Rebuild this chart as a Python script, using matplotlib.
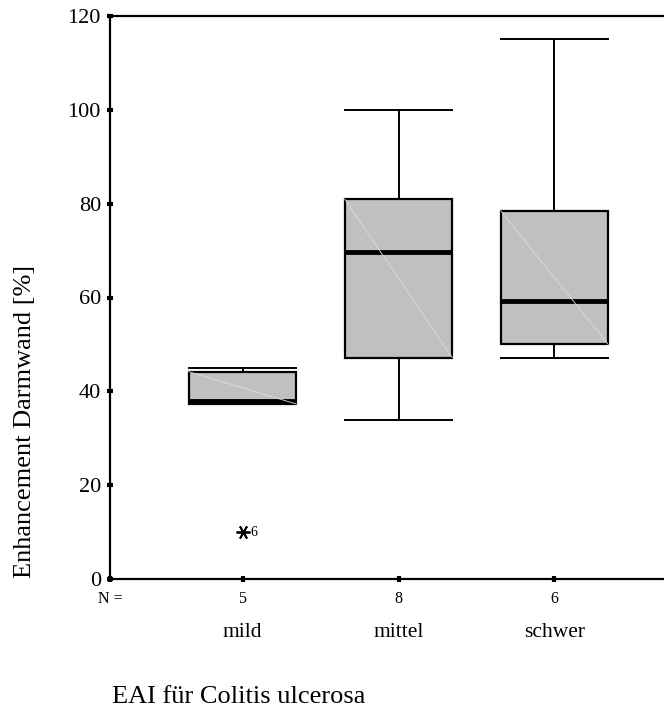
import matplotlib
matplotlib.use("Agg")
import matplotlib.pyplot as plt

categories = ["mild", "mittel", "schwer"]
n_counts = ["5", "8", "6"]
whislo = [37.2, 33.8, 47.2]
q1 = [37.3, 47.2, 50.0]
med = [38.0, 69.6, 59.2]
q3 = [44.2, 81.0, 78.5]
whishi = [45.0, 100.0, 115.0]
fliers = [[10.0], [], []]
flier_labels = ["6", "", ""]
yticks = [0, 20, 40, 60, 80, 100, 120]

plt.rcParams['font.family'] = ['Liberation Serif', 'DejaVu Serif']

fig = plt.figure(figsize=(6.64, 7.12), dpi=100)
ax = fig.add_axes([110/664, 133/712, 577/664, 563/712])

positions = [1, 2, 3]
stats = []
for i in range(3):
    stats.append(dict(med=med[i], q1=q1[i], q3=q3[i], whislo=whislo[i],
                      whishi=whishi[i], fliers=fliers[i]))
width = 0.69
ax.bxp(stats, positions=positions, widths=width, patch_artist=True,
       boxprops=dict(facecolor='#c0c0c0', edgecolor='black', linewidth=1.6),
       medianprops=dict(color='black', linewidth=3.5),
       whiskerprops=dict(color='black', linewidth=1.4),
       capprops=dict(color='black', linewidth=1.4),
       capwidths=width,
       flierprops=dict(marker=(6, 2, 90), markersize=10, markeredgecolor='black',
                       markeredgewidth=1.3, linestyle='none'),
       manage_ticks=False, zorder=3)

# faint diagonal artifacts inside boxes
for i, p in enumerate(positions):
    ax.plot([p - width/2, p + width/2], [q3[i], q1[i]], color='#dedede',
            linewidth=0.6, zorder=3.5)

for i, p in enumerate(positions):
    for f in fliers[i]:
        if flier_labels[i]:
            ax.text(p + 0.05, f, flier_labels[i], fontsize=10, va='center', ha='left')

ax.set_xlim(0.15, 3.85)
ax.set_ylim(0, 120)
ax.set_yticks(yticks)
ax.set_yticklabels([str(t) for t in yticks], fontsize=16)
ax.set_xticks([0.15] + positions)
ax.set_xticklabels(["N ="] + n_counts, fontsize=11.5)
ax.tick_params(axis='both', direction='inout', length=5, width=3)
ax.tick_params(axis='x', pad=6)
ax.tick_params(axis='y', pad=4)

for s in ['left', 'top', 'bottom']:
    ax.spines[s].set_linewidth(1.6)
ax.spines['right'].set_visible(False)

for p, c in zip(positions, categories):
    ax.text(p, -11.3, c, ha='center', va='center', fontsize=15.5)

fig.text(25/664, 1 - 421/712, "Enhancement Darmwand [%]", fontsize=19,
         rotation=90, ha='center', va='center')
fig.text(112/664, 1 - 697/712, "EAI für Colitis ulcerosa", fontsize=19,
         ha='left', va='center')

fig.savefig("out.png", dpi=100)
